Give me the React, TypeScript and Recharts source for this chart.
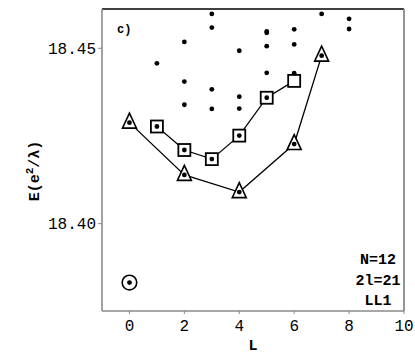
import React from "react";
import {
  ScatterChart,
  Scatter,
  XAxis,
  YAxis,
  ReferenceLine,
  Customized,
} from "recharts";

// level energies
const dotPoints = [
  { L: 0, E: 18.4288 },
  { L: 0, E: 18.3832 },
  { L: 1, E: 18.4457 },
  { L: 1, E: 18.4277 },
  { L: 2, E: 18.4518 },
  { L: 2, E: 18.4405 },
  { L: 2, E: 18.4339 },
  { L: 2, E: 18.421 },
  { L: 2, E: 18.4139 },
  { L: 3, E: 18.4598 },
  { L: 3, E: 18.4559 },
  { L: 3, E: 18.4383 },
  { L: 3, E: 18.4327 },
  { L: 3, E: 18.4184 },
  { L: 4, E: 18.4493 },
  { L: 4, E: 18.4362 },
  { L: 4, E: 18.4328 },
  { L: 4, E: 18.4251 },
  { L: 4, E: 18.409 },
  { L: 5, E: 18.4548 },
  { L: 5, E: 18.4544 },
  { L: 5, E: 18.4506 },
  { L: 5, E: 18.443 },
  { L: 5, E: 18.4359 },
  { L: 6, E: 18.4554 },
  { L: 6, E: 18.4511 },
  { L: 6, E: 18.4429 },
  { L: 6, E: 18.4227 },
  { L: 7, E: 18.4598 },
  { L: 7, E: 18.4479 },
  { L: 8, E: 18.4584 },
  { L: 8, E: 18.4555 },
];

const squarePoints = [
  { L: 1, E: 18.4277 },
  { L: 2, E: 18.421 },
  { L: 3, E: 18.4184 },
  { L: 4, E: 18.4251 },
  { L: 5, E: 18.4359 },
  { L: 6, E: 18.4407 },
];

const trianglePoints = [
  { L: 0, E: 18.4288 },
  { L: 2, E: 18.4139 },
  { L: 4, E: 18.409 },
  { L: 6, E: 18.4227 },
  { L: 7, E: 18.4479 },
];

const circlePoints = [{ L: 0, E: 18.3832 }];

const xTicks = [0, 2, 4, 6, 8, 10];
const yTicks = [18.4, 18.45];
const infoLines = ["N=12", "2l=21", "LL1"];

const FONT = "'Liberation Mono', 'DejaVu Sans Mono', monospace";
const AXIS_GRAY = "#8a8a8a";

const Dot = (props: any) => <circle cx={props.cx} cy={props.cy} r={2.4} fill="#000" />;

const Square = (props: any) => (
  <rect
    x={props.cx - 6}
    y={props.cy - 6}
    width={12}
    height={12}
    fill="#fff"
    stroke="#000"
    strokeWidth={1.8}
  />
);

const Triangle = (props: any) => {
  const { cx, cy } = props;
  const pts = `${cx},${cy - 9.5} ${cx - 7},${cy + 5.5} ${cx + 7},${cy + 5.5}`;
  return <polygon points={pts} fill="#fff" stroke="#000" strokeWidth={1.6} />;
};

const Ring = (props: any) => (
  <circle cx={props.cx} cy={props.cy} r={7.3} fill="#fff" stroke="#000" strokeWidth={1.6} />
);

const Annotations = () => (
  <g fontFamily={FONT} fill="#000">
    <text x={117} y={33} fontSize={12} fontWeight="bold">
      c)
    </text>
    {infoLines.map((t, i) => (
      <text
        key={t}
        x={378}
        y={264 + i * 20.5}
        fontSize={15}
        fontWeight="bold"
        textAnchor="middle"
      >
        {t}
      </text>
    ))}
    <text
      transform="translate(39,171) rotate(-90)"
      fontSize={15}
      fontWeight="bold"
      textAnchor="middle"
    >
      E(e
      <tspan dy={-6} fontSize={11}>
        2
      </tspan>
      <tspan dy={6}>/λ)</tspan>
    </text>
    <text x={253} y={350} fontSize={15} fontWeight="bold" textAnchor="middle">
      L
    </text>
  </g>
);

export default function App() {
  return (
    <div style={{ width: 415, height: 359, background: "#fff" }}>
      <style>{"body{margin:0}"}</style>
      <ScatterChart
        width={415}
        height={359}
        margin={{ top: 9, right: 11, bottom: 0, left: 0 }}
      >
        <XAxis
          type="number"
          dataKey="L"
          domain={[-1, 10]}
          ticks={xTicks}
          allowDataOverflow
          height={48}
          axisLine={{ stroke: AXIS_GRAY, strokeWidth: 1.6 }}
          tickLine={{ stroke: AXIS_GRAY }}
          tickSize={3}
          tickMargin={6}
          tick={{ fill: "#000", fontFamily: FONT, fontSize: 16 }}
        />
        <YAxis
          type="number"
          dataKey="E"
          domain={[18.3751, 18.4612]}
          ticks={yTicks}
          allowDataOverflow
          width={102}
          axisLine={{ stroke: AXIS_GRAY, strokeWidth: 1.6 }}
          tickLine={{ stroke: AXIS_GRAY }}
          tickSize={4}
          tickMargin={2}
          tickFormatter={(v: number) => v.toFixed(2)}
          tick={{ fill: "#000", fontFamily: FONT, fontSize: 16 }}
        />
        <ReferenceLine y={18.4612} stroke="#000" strokeWidth={1.4} />
        <ReferenceLine x={10} stroke={AXIS_GRAY} strokeWidth={1.8} />
        <Scatter
          data={trianglePoints}
          line={{ stroke: "#000", strokeWidth: 1.3 }}
          shape={Triangle}
          isAnimationActive={false}
        />
        <Scatter
          data={squarePoints}
          line={{ stroke: "#000", strokeWidth: 1.3 }}
          shape={Square}
          isAnimationActive={false}
        />
        <Scatter data={circlePoints} shape={Ring} isAnimationActive={false} />
        <Scatter data={dotPoints} shape={Dot} isAnimationActive={false} />
        <Customized component={Annotations} />
      </ScatterChart>
    </div>
  );
}
